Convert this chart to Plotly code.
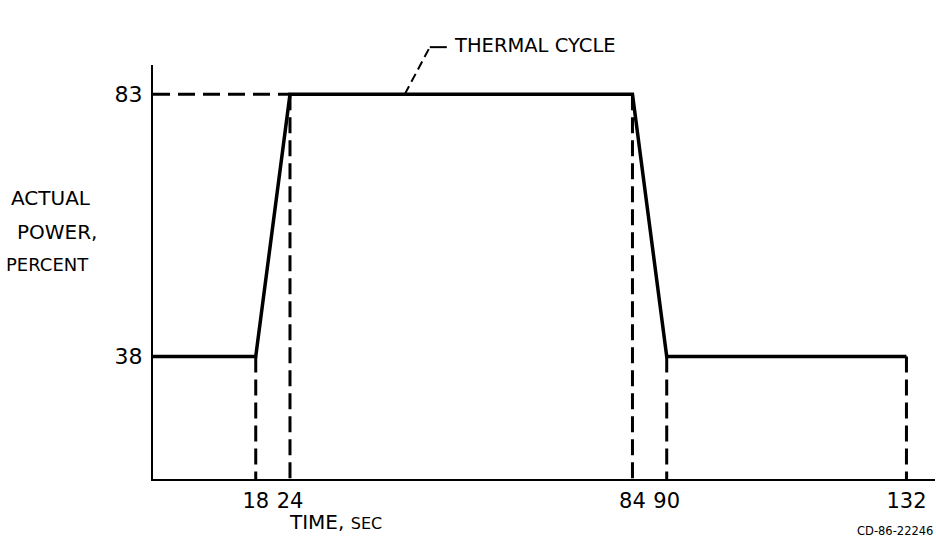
import plotly.graph_objects as go

# Power profile of the thermal cycle (time in seconds, actual power in percent)
time_s = [0, 18, 24, 84, 90, 132]
power_pct = [38, 38, 83, 83, 38, 38]

# Marked instants and levels
x_ticks = [18, 24, 84, 90, 132]
y_ticks = [38, 83]

X_RANGE = [0, 137]
Y_RANGE = [17, 88]

FONT = "DejaVu Sans, sans-serif"
INK = "black"

fig = go.Figure()

# Dashed reference line at the peak level, from the power axis to the ramp top
fig.add_trace(go.Scatter(
    x=[X_RANGE[0], time_s[2]],
    y=[power_pct[2], power_pct[2]],
    mode="lines",
    line=dict(color=INK, width=3, dash="17px,8px"),
    hoverinfo="skip",
))

# Dashed drop lines from each marked instant down to the time axis
for t in x_ticks:
    level = power_pct[time_s.index(t)]
    fig.add_trace(go.Scatter(
        x=[t, t],
        y=[level, Y_RANGE[0]],
        mode="lines",
        line=dict(color=INK, width=3, dash="16px,7px"),
        hoverinfo="skip",
    ))

# The cycle itself
fig.add_trace(go.Scatter(
    x=time_s,
    y=power_pct,
    mode="lines",
    line=dict(color=INK, width=3.5),
    hoverinfo="skip",
))

# Leader line for the "THERMAL CYCLE" callout (paper refs so it is not clipped)
LEAD_X = 0.322
LEAD_Y = (power_pct[2] - Y_RANGE[0]) / (Y_RANGE[1] - Y_RANGE[0])
fig.add_shape(
    type="line",
    xref="paper", yref="paper",
    xsizemode="pixel", ysizemode="pixel",
    xanchor=LEAD_X, yanchor=LEAD_Y,
    x0=0, y0=0, x1=25, y1=47,
    line=dict(color=INK, width=2, dash="9px,5px"),
)
fig.add_shape(
    type="line",
    xref="paper", yref="paper",
    xsizemode="pixel", ysizemode="pixel",
    xanchor=LEAD_X, yanchor=LEAD_Y,
    x0=25, y0=47, x1=42, y1=47,
    line=dict(color=INK, width=2),
)
fig.add_annotation(
    x=LEAD_X, y=LEAD_Y, xref="paper", yref="paper",
    text="THERMAL CYCLE",
    showarrow=False,
    xanchor="left", yanchor="middle",
    xshift=47, yshift=49,
    font=dict(family=FONT, size=19.5, color=INK),
)

# Axis titles
for text, ypos, size, dx in [("ACTUAL", 0.679, 20, 0), ("POWER,", 0.597, 20, 6), ("PERCENT", 0.517, 18, -4)]:
    fig.add_annotation(
        x=-0.13, y=ypos, xref="paper", yref="paper",
        text=text, showarrow=False,
        xanchor="center", yanchor="middle", xshift=dx,
        font=dict(family=FONT, size=size, color=INK),
    )

fig.add_annotation(
    x=0.233, y=-0.104, xref="paper", yref="paper",
    text="TIME, <span style='font-size:16px'>SEC</span>",
    showarrow=False,
    xanchor="center", yanchor="middle",
    font=dict(family=FONT, size=20, color=INK),
)

fig.add_annotation(
    x=1.0, y=-0.126, xref="paper", yref="paper",
    text="CD-86-22246",
    showarrow=False,
    xanchor="right", yanchor="middle",
    font=dict(family=FONT, size=11.5, color=INK),
)

fig.update_layout(
    width=936,
    height=542,
    margin=dict(l=153, r=1, t=65, b=63),
    paper_bgcolor="white",
    plot_bgcolor="white",
    showlegend=False,
    font=dict(family=FONT, color=INK),
)

fig.update_xaxes(
    range=X_RANGE,
    tickmode="array",
    tickvals=x_ticks,
    ticktext=[str(v) for v in x_ticks],
    ticks="",
    ticklabelstandoff=2,
    tickfont=dict(family=FONT, size=21, color=INK),
    showgrid=False,
    zeroline=False,
    showline=True,
    linecolor=INK,
    linewidth=2,
)

fig.update_yaxes(
    range=Y_RANGE,
    tickmode="array",
    tickvals=y_ticks,
    ticktext=[str(v) for v in y_ticks],
    ticks="",
    ticklabelstandoff=4,
    tickfont=dict(family=FONT, size=22, color=INK),
    showgrid=False,
    zeroline=False,
    showline=True,
    linecolor=INK,
    linewidth=2,
)

# Drop the page's default body margin so the figure fills the window exactly
fig.write_html(
    "out.html",
    config={"displayModeBar": False},
    post_script="document.body.style.margin='0';document.body.style.overflow='hidden';",
)
